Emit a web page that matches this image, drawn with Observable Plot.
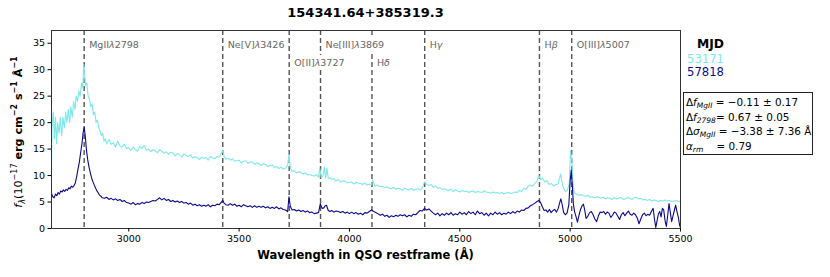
<!DOCTYPE html>
<html>
<head>
<meta charset="utf-8">
<script src="https://cdn.jsdelivr.net/npm/d3@7"></script>
<script src="https://cdn.jsdelivr.net/npm/@observablehq/plot@0.6"></script>
<style>
  html, body { margin: 0; padding: 0; background: #fff; }
  #wrap { position: relative; width: 830px; height: 277px; font-family: "DejaVu Sans", sans-serif; color: #000; }
  #wrap svg { position: absolute; left: 0; top: 0; }
  .ov { position: absolute; white-space: nowrap; }
  #title { left: 0; width: 731px; top: 5px; text-align: center; font-weight: bold; font-size: 13px; }
  #xlab { left: 0; width: 731px; top: 248px; text-align: center; font-weight: bold; font-size: 11.5px; }
  #mjd { left: 697px; top: 37px; font-weight: bold; font-size: 12.3px; }
  .leg { font-size: 11.6px; left: 687px; }
  #box { left: 683px; top: 92px; width: 130px; height: 63px; border: 1.2px solid #222; font-size: 10.4px; line-height: 14.6px; padding: 2px 0 0 2px; box-sizing: border-box; }
  #box i { font-style: italic; }
  #box sub { font-size: 7.5px; font-style: italic; vertical-align: -2px; line-height: 0; }
</style>
</head>
<body>
<div id="wrap">
  <div id="title" class="ov">154341.64+385319.3</div>
  <div id="xlab" class="ov">Wavelength in QSO restframe (Å)</div>
  <div id="mjd" class="ov">MJD</div>
  <div id="leg1" class="ov leg" style="top:52px;color:#7ee8e8">53171</div>
  <div id="leg2" class="ov leg" style="top:65px;color:#0a0a8c">57818</div>
  <div id="box" class="ov">
    Δ<i>f</i><sub>MgII</sub> = −0.11 ± 0.17<br>
    Δ<i>f</i><sub>2798</sub>= 0.67 ± 0.05<br>
    Δ<i>σ</i><sub>MgII</sub> = −3.38 ± 7.36 Å<br>
    <i>α</i><sub>rm</sub> &nbsp;&nbsp;&nbsp;= 0.79
  </div>
</div>
<script>
// ---- data ----
const mjds = ["53171", "57818"];
const seriesColors = ["#7ee8e8", "#0a0a8c"];

const wave53171 = [2650,2652,2658,2663,2668,2673,2678,2684,2690,2696,2702,2708,2714,2720,2726,2732,2738,2744,2750,2756,2762,2768,2774,2780,2786,2792,2796,2800,2804,2810,2816,2822,2828,2834,2840,2846,2852,2858,2864,2870,2876,2882,2888,2894,
  2900,2910,2920,2930,2940,2950,2960,2970,2980,2990,3000,3010,3020,3030,3040,3050,3060,3070,3080,3090,3100,3110,3120,3130,3140,3150,3160,3170,3180,3190,3200,3210,3220,3230,3240,3250,3260,3270,3280,3290,3300,3310,3320,3330,3340,3350,3360,3370,3380,3390,3400,3410,
  3420,3426,3432,
  3440,3450,3460,3470,3480,3490,3500,3510,3520,3530,3540,3550,3560,3570,3580,3590,3600,3610,3620,3630,3640,3650,3660,3670,3680,3690,3700,3710,
  3720,3726,3732,
  3740,3750,3760,3770,3780,3790,3800,3810,3820,3830,3840,3850,3860,
  3866,3872,3880,3886,3892,3898,3904,
  3912,3920,3930,3940,3950,3960,3970,3980,3990,4000,4010,4020,4030,4040,4050,4060,4070,4080,4090,4100,
  4106,4115,4125,
  4140,4150,4160,4170,4180,4190,4200,4210,4220,4230,4240,4250,4260,4270,4280,4290,4300,4310,4320,4330,
  4340,4350,4360,4370,4380,4390,
  4400,4410,4420,4430,4440,4450,4460,4470,4480,4490,4500,4510,4520,4530,4540,4550,4560,4570,4580,4590,4600,4610,4620,4630,4640,4650,4660,4670,4680,4690,4700,4710,4720,4730,4740,4750,4760,
  4770,4780,4790,4800,4810,4820,4830,4840,4850,4858,4866,4875,4885,4895,4905,4915,4925,4935,4945,4952,4957,4962,4968,4978,4988,4996,5002,5007,5012,5018,5028,5040,
  5050,5060,5070,5080,5090,5100,5110,5120,5130,5140,5150,5160,5170,5180,5190,5200,5210,5220,5230,5240,5250,5260,5270,5280,5290,5300,5310,5320,5330,5340,5350,5360,5370,5380,5390,5400,5410,5420,5430,5440,5450,5460,5470,5480,5490,5500];
const flux53171 = [10.5,19,22,17,21,16,20,18,21,17.5,21,19,22,20,22.5,20,23,21,24,22.5,25,24,26,25,27.5,26.5,31,29,27,27.5,25,24.5,23,23.5,21.5,22,20,20.5,19,18.5,17.5,18,16.5,17,
  16,16.8,15.9,16.2,15.4,16.5,15.6,15.4,15.9,15.1,15.3,14.7,15.4,14.9,14.6,15.5,15.1,15.7,14.8,15.0,14.5,14.9,14.7,14.3,14.9,14.6,14.2,14.5,14.0,14.4,14.3,13.7,14.2,13.9,13.5,14.1,13.8,13.6,13.9,13.3,13.6,13.4,13.0,13.5,13.2,13.4,12.9,13.6,13.3,13.2,13.6,13.5,
  14.2,14.8,13.6,
  13.1,13.3,12.9,13.2,12.7,12.8,12.9,12.4,12.7,12.8,12.3,12.5,12.6,12.1,12.4,12.2,11.9,12.3,12.1,11.7,11.9,12.0,11.5,11.7,11.3,11.6,11.2,11.4,
  12,14,11.5,
  10.8,10.9,10.5,10.7,10.6,10.3,10.5,10.1,10.2,10.0,9.9,10.2,9.7,
  11.3,9.6,10,11.6,9.5,11.4,9.4,
  9.6,9.3,9.4,9.0,9.2,8.8,9.0,8.9,8.6,8.7,8.8,8.4,8.7,8.6,8.5,8.3,8.6,8.2,8.4,8.3,
  9.2,8,8.2,
  7.9,8.0,7.7,7.9,7.6,7.5,7.8,7.4,7.6,7.5,7.2,7.6,7.4,7.3,7.6,7.2,7.4,7.5,7.3,7.6,
  8.8,8.4,8.1,8.3,7.8,8,
  7.6,7.7,7.4,7.5,7.3,7.2,7.4,7.0,7.3,7.1,6.9,7.2,7.0,7.1,6.8,7.0,7.1,6.8,7.0,6.9,6.8,7.1,6.9,6.8,6.7,6.9,6.7,6.8,6.6,6.8,6.5,6.7,6.8,6.6,6.7,6.9,6.8,
  7.2,7,7.6,7.4,8,8.2,8,8.5,9,10,9.2,9.5,8.8,9,8.3,8.5,8,8.3,8.4,9.5,10.3,9,7.8,7,7.2,8.5,14.7,13,9,6.8,6.5,6.3,
  6.4,6.2,6.1,6.3,5.9,6.0,5.8,6.0,5.9,5.7,5.9,5.6,5.8,5.7,5.5,5.8,5.6,5.7,5.9,5.5,5.6,5.8,5.7,5.5,5.8,5.9,5.6,5.7,5.4,5.5,5.3,5.5,5.2,5.4,5.3,5.1,5.3,5.2,5.4,5.2,5.3,5.1,5.2,5.3,5.1,5.2];

const wave57818 = [2650,2656,2662,2668,2674,2680,2686,2692,2698,2704,2710,2716,2722,2728,2734,2740,2746,2752,2758,2764,2770,2776,2782,2788,2793,2798,2803,2808,2814,2820,2826,2832,2838,2844,2850,2856,2862,2868,2874,2880,2890,2900,2910,2920,2930,2940,2950,2960,2970,2980,2990,3000,3010,3020,3030,3040,3050,3060,3070,3080,3090,3100,3110,3120,3130,3140,3150,3160,3170,3180,3190,3200,3210,3220,3230,3240,3250,3260,3270,3280,3290,3300,3310,3320,3330,3340,3350,3360,3370,3380,3390,3400,3410,3420,3426,3432,3440,3450,3460,3470,3480,3490,3500,3510,3520,3530,3540,3550,3560,3570,3580,3590,3600,3610,3620,3630,3640,3650,3660,3670,3680,3690,3700,3710,3720,3726,3732,3740,3750,3760,3770,3780,3790,3800,3810,3820,3830,3840,3850,3860,3868,3876,3884,3890,3896,3904,3912,3920,3930,3940,3950,3960,3970,3980,3990,4000,4010,4020,4030,4040,4050,4060,4070,4080,4090,4100,4106,4115,4125,4140,4150,4160,4170,4180,4190,4200,4210,4220,4230,4240,4250,4260,4270,4280,4290,4300,4310,4320,4330,4340,4350,4360,4370,4380,4390,4400,4410,4420,4430,4440,4450,4460,4470,4480,4490,4500,4510,4520,4530,4540,4550,4560,4570,4580,4590,4600,4610,4620,4630,4640,4650,4660,4670,4680,4690,4700,4710,4720,4730,4740,4750,4760,4770,4780,4790,4800,4810,4820,4830,4840,4850,4858,4866,4874,4882,4890,4898,4906,4914,4922,4930,4938,4946,4952,4958,4964,4970,4978,4986,4994,5000,5005,5010,5015,5020,5027,5033,5040,5047,5054,5060,5066,5072,5080,5088,5096,5104,5112,5120,5128,5136,5144,5152,5160,5168,5176,5184,5192,5200,5208,5216,5224,5232,5240,5248,5256,5264,5272,5280,5288,5296,5304,5312,5320,5328,5336,5344,5352,5360,5368,5376,5382,5388,5394,5400,5406,5412,5418,5424,5430,5436,5442,5448,5454,5460,5466,5472,5478,5484,5490,5496,5500];
const flux57818 = [6.6,6,5.8,6.5,6.2,6.8,6.5,7.1,6.9,7.3,7,7.4,7.2,7.7,7.5,8,7.8,8.1,8.6,9.8,11.2,12.5,14.3,16,18,19.1,17.5,15,13,11.6,10.5,9.5,8.8,8.2,7.6,7.1,6.7,6.3,6.1,5.8,5.7,5.9,5.5,5.7,5.4,5.6,5.3,5.5,5.1,5.3,4.9,4.8,4.6,4.9,4.5,4.7,4.6,4.9,4.7,5,4.9,5.1,5.3,5.2,5.5,5.8,5.4,5.7,5.3,5.5,5.1,5.3,5,5.2,4.9,5.1,4.8,4.9,4.6,4.8,4.4,4.6,4.3,4.5,4.2,4.4,4.2,4.5,4.1,4.4,4.3,4.6,4.5,5,5.3,4.8,4.5,4.4,4.7,4.4,4.6,4.2,4.4,4.1,4.5,4.3,4.1,4.3,4,4.3,4,4.2,4,4.2,3.9,4.1,3.8,4,3.8,4.1,3.7,3.9,3.6,3.5,3.2,6,4.2,3.5,3.6,3.3,3.5,3.2,3.4,3.1,3.3,3,3.1,2.8,2.9,3,4.7,3.8,3.9,4.3,4.4,3.4,3.2,3.4,3.1,3.3,3.2,3,3.2,2.9,3.1,2.8,3.1,2.8,3,2.7,2.9,2.6,3,2.9,3.2,3.5,3.3,3.1,2.9,2.5,2.7,2.3,2.5,2.1,2.4,2.2,2.5,2.3,2.6,2.4,2.6,2.2,2.5,2.3,2.7,2.6,3,3.4,3.3,3.8,3.5,3.7,3.3,2.9,2.6,2.9,2.4,2.8,2.5,2.9,2.6,3,2.5,2.8,2.6,3.1,2.7,3,2.6,3.2,2.8,3.1,2.6,3.3,2.8,3,2.5,2.9,2.4,2.9,2.6,3.1,2.7,3,2.6,2.9,2.7,3.1,2.8,3.2,2.9,3.3,3.1,3.5,3.4,3.8,3.9,4.3,4.5,4.8,5.1,5.3,4.9,4.1,3.4,3.5,3.1,3.6,3,3.4,3.6,3.1,3.8,4.8,5.6,4.5,3.1,2.6,2.9,4.5,9,11,8,4.5,3.2,2.2,1.2,2.5,3.6,4.3,4.6,3.5,1.9,2.3,3,3.2,2.6,1.8,1.3,2.4,3.1,3,3.2,2.7,3.1,2.9,2.1,2.5,3.1,2.9,2.3,1.7,2.6,3,2.4,2.9,3.3,2.7,2.5,2.9,2.6,2,0.9,1.8,2.6,2.9,2.4,2.7,2.5,3.2,3.8,1.8,0.2,1.5,2.8,3.2,2.2,3.8,3.5,1.5,0.4,2.5,4.7,3,1.3,2.4,3.4,4.4,3.2,2.2,0.6,0.2];

const lineLabels = ["MgIIλ2798", "Ne[V]λ3426", "O[II]λ3727", "Ne[III]λ3869", "Hδ", "Hγ", "Hβ", "O[III]λ5007"];
const lineWaves = [2798, 3426, 3727, 3869, 4102, 4341, 4861, 5007];
const lineRow = [0, 0, 1, 0, 1, 0, 0, 0];

const xTicks = [3000, 3500, 4000, 4500, 5000, 5500];
const yTicks = [0, 5, 10, 15, 20, 25, 30, 35];

// ---- tables built from arrays ----
const spec = [];
wave53171.forEach((w, i) => spec.push({mjd: mjds[0], wave: w, flux: flux53171[i]}));
wave57818.forEach((w, i) => spec.push({mjd: mjds[1], wave: w, flux: flux57818[i]}));
const lines = lineWaves.map((w, i) => ({wave: w, label: lineLabels[i], row: lineRow[i]}));
const row0 = lines.filter(d => d.row === 0);
const row1 = lines.filter(d => d.row === 1);

const labelOpts = {x: "wave", text: "label", frameAnchor: "top", lineAnchor: "middle", dx: 5, textAnchor: "start", fontSize: 9.5, fill: "#666", className: "elabel"};

const chart = Plot.plot({
  width: 830,
  height: 277,
  marginLeft: 51,
  marginRight: 150,
  marginTop: 30,
  marginBottom: 49,
  style: {fontFamily: "DejaVu Sans, sans-serif", fontSize: "9.5px", background: "white", color: "black"},
  x: {domain: [2650, 5500], ticks: xTicks, label: null},
  y: {domain: [0, 37.4], ticks: yTicks, label: null},
  color: {domain: mjds, range: seriesColors},
  marks: [
    Plot.ruleX(lines, {x: "wave", stroke: "#555", strokeWidth: 1.4, strokeDasharray: "5,3"}),
    Plot.text(row0, {...labelOpts, dy: 14}),
    Plot.text(row1, {...labelOpts, dy: 32}),
    Plot.line(spec, {x: "wave", y: "flux", z: "mjd", stroke: "mjd", strokeWidth: 1.1, clip: true}),
    Plot.frame({stroke: "#333", strokeWidth: 1}),
    Plot.axisX({ticks: xTicks, tickSize: 3.5, tickPadding: 3, label: null, tickFormat: d => String(d)}),
    Plot.axisY({ticks: yTicks, tickSize: 3.5, tickPadding: 3, label: null})
  ]
});

document.getElementById("wrap").prepend(chart);

// italicize Greek letters in the emission-line labels, and give each a white box (like a bbox)
d3.select(chart).selectAll(".elabel text").each(function() {
  const t = d3.select(this);
  const s = t.text();
  t.text(null);
  s.split(/([λδγβ])/).filter(p => p.length).forEach(p => {
    const ts = t.append("tspan").text(p);
    if (/[λδγβ]/.test(p)) ts.attr("font-style", "italic");
  });
  const bb = this.getBBox();
  const pad = 1.5;
  const r = document.createElementNS("http://www.w3.org/2000/svg", "rect");
  r.setAttribute("x", bb.x - pad);
  r.setAttribute("y", bb.y - pad);
  r.setAttribute("width", bb.width + 2 * pad);
  r.setAttribute("height", bb.height + 2 * pad);
  r.setAttribute("fill", "white");
  const tr = this.getAttribute("transform");
  if (tr) r.setAttribute("transform", tr);
  this.parentNode.insertBefore(r, this);
});

// y-axis label with superscripts
const svg = d3.select(chart);
const yl = svg.append("text")
  .attr("transform", "translate(22,132) rotate(-90)")
  .attr("text-anchor", "middle")
  .attr("font-size", 11.2)
  .attr("fill", "black");
yl.append("tspan").attr("font-style", "italic").text("f");
yl.append("tspan").attr("font-style", "italic").attr("font-size", 8).attr("dy", 3).text("λ");
yl.append("tspan").attr("dy", -3).text("(10");
yl.append("tspan").attr("font-size", 8).attr("dy", -5).text("−17");
yl.append("tspan").attr("dy", 5).attr("font-weight", "bold").text(" erg cm");
yl.append("tspan").attr("font-size", 8).attr("font-weight", "bold").attr("dy", -5).text("−2");
yl.append("tspan").attr("dy", 5).attr("font-weight", "bold").text(" s");
yl.append("tspan").attr("font-size", 8).attr("font-weight", "bold").attr("dy", -5).text("−1");
yl.append("tspan").attr("dy", 5).attr("font-weight", "bold").text(" Å");
yl.append("tspan").attr("font-size", 8).attr("font-weight", "bold").attr("dy", -5).text("−1");
</script>
</body>
</html>
